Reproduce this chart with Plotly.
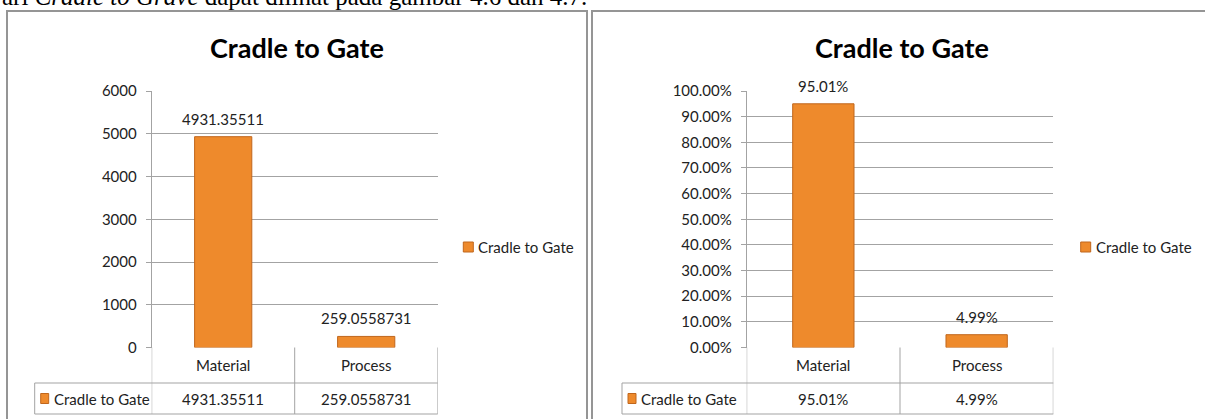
import plotly.graph_objects as go

# ---- data -------------------------------------------------------------
categories = ["Material", "Process"]
series_name = "Cradle to Gate"
values = [4931.35511, 259.0558731]          # absolute contribution
value_labels = ["4931.35511", "259.0558731"]
shares = [0.9501, 0.0499]                   # share of total
share_labels = ["95.01%", "4.99%"]
abs_ticks = [0, 1000, 2000, 3000, 4000, 5000, 6000]
pct_ticks = [0.0, 0.1, 0.2, 0.3, 0.4, 0.5, 0.6, 0.7, 0.8, 0.9, 1.0]
caption = "ari <i>Cradle to Grave</i> dapat dilihat pada gambar 4.6 dan 4.7."

# ---- page geometry (pixels) -------------------------------------------
W, H = 1205, 419
FONT = "Lato, 'Open Sans', sans-serif"
ORANGE = "#EE8A2C"
EDGE = "#C0661C"
GRID = "#A3A3A3"
FRAME = "#959595"


def px(x):
    return x / W


def py(y):
    return 1 - y / H


PLOT_TOP, PLOT_BOTTOM = 91, 347.5
ROW1_BOTTOM, ROW2_BOTTOM = 383, 414

panels = [
    dict(ax="", frame=(7, 587), plot=(151.7, 437.7), table_left=34.7,
         legend_x=463.3, title_x=297, y=values, labels=value_labels,
         ticks=abs_ticks, fmt="d", rng=[0, 6000]),
    dict(ax="2", frame=(592, 1225), plot=(746.7, 1053.3), table_left=622,
         legend_x=1080.7, title_x=902, y=shares, labels=share_labels,
         ticks=pct_ticks, fmt=".2%", rng=[0, 1]),
]

fig = go.Figure()
shapes, annotations = [], []
layout_axes = {}

for p in panels:
    xa, ya = "x" + p["ax"], "y" + p["ax"]
    fig.add_trace(go.Bar(
        x=categories, y=p["y"], name=series_name,
        xaxis=xa, yaxis=ya, showlegend=False, hoverinfo="skip",
        marker=dict(color=ORANGE, line=dict(color=EDGE, width=1)),
    ))

    layout_axes["xaxis" + p["ax"]] = dict(
        domain=[px(p["plot"][0]), px(p["plot"][1])], anchor=ya,
        range=[-0.5, 1.5], showticklabels=False, showgrid=False,
        zeroline=False, showline=False, ticks="", fixedrange=True,
        automargin=False,
    )
    layout_axes["yaxis" + p["ax"]] = dict(
        domain=[py(PLOT_BOTTOM), py(PLOT_TOP)], anchor=xa,
        range=p["rng"], tickvals=p["ticks"], tickformat=p["fmt"],
        showgrid=True, gridcolor=GRID, gridwidth=1, zeroline=False,
        showline=True, linecolor=GRID, linewidth=1,
        ticks="outside", ticklen=5, tickcolor=GRID,
        ticklabelstandoff=6, automargin=False,
        tickfont=dict(family=FONT, size=15, color="#222"),
        fixedrange=True,
    )

    # chart frame
    shapes.append(dict(type="rect", xref="paper", yref="paper",
                       x0=px(p["frame"][0]), x1=px(p["frame"][1]),
                       y0=py(11), y1=py(H + 40),
                       line=dict(color=FRAME, width=2)))

    # title
    annotations.append(dict(text="<b>Cradle to Gate</b>", xref="paper", yref="paper",
                            x=px(p["title_x"]), y=py(47.5), xanchor="center",
                            yanchor="middle", showarrow=False,
                            font=dict(family=FONT, size=27, color="#000")))

    # value labels above the bars
    for cat, v, lab in zip(categories, p["y"], p["labels"]):
        annotations.append(dict(text=lab, xref=xa, yref=ya, x=cat, y=v,
                                yshift=18, xanchor="center", yanchor="middle",
                                showarrow=False,
                                font=dict(family=FONT, size=15, color="#222")))

    # data table beneath the plot
    tl = px(p["table_left"])
    right = px(p["plot"][1])
    for xb in (-0.5, 0.5, 1.5):
        shapes.append(dict(type="line", xref=xa, yref="paper", x0=xb, x1=xb,
                           y0=py(PLOT_BOTTOM), y1=py(ROW2_BOTTOM),
                           line=dict(color=GRID, width=1)))
    for yb in (ROW1_BOTTOM, ROW2_BOTTOM):
        shapes.append(dict(type="line", xref="paper", yref="paper", x0=tl, x1=right,
                           y0=py(yb), y1=py(yb), line=dict(color=GRID, width=1)))
    shapes.append(dict(type="line", xref="paper", yref="paper", x0=tl, x1=tl,
                       y0=py(ROW1_BOTTOM), y1=py(ROW2_BOTTOM),
                       line=dict(color=GRID, width=1)))

    for cat, lab in zip(categories, p["labels"]):
        annotations.append(dict(text=cat, xref=xa, yref="paper", x=cat,
                                y=py((PLOT_BOTTOM + ROW1_BOTTOM) / 2),
                                xanchor="center", yanchor="middle", showarrow=False,
                                font=dict(family=FONT, size=15, color="#222")))
        annotations.append(dict(text=lab, xref=xa, yref="paper", x=cat,
                                y=py((ROW1_BOTTOM + ROW2_BOTTOM) / 2),
                                xanchor="center", yanchor="middle", showarrow=False,
                                font=dict(family=FONT, size=15, color="#222")))

    # series key in the table row
    kx = p["table_left"] + 6
    ky = (ROW1_BOTTOM + ROW2_BOTTOM) / 2
    shapes.append(dict(type="rect", xref="paper", yref="paper",
                       x0=px(kx), x1=px(kx + 8), y0=py(ky + 5), y1=py(ky - 5),
                       fillcolor=ORANGE, line=dict(color=EDGE, width=1)))
    annotations.append(dict(text=series_name, xref="paper", yref="paper",
                            x=px(kx + 11), y=py(ky), xanchor="left", yanchor="middle",
                            showarrow=False,
                            font=dict(family=FONT, size=15, color="#222")))

    # legend
    lx, ly = p["legend_x"], 247
    shapes.append(dict(type="rect", xref="paper", yref="paper",
                       x0=px(lx), x1=px(lx + 10), y0=py(ly + 5), y1=py(ly - 5),
                       fillcolor=ORANGE, line=dict(color=EDGE, width=1)))
    annotations.append(dict(text=series_name, xref="paper", yref="paper",
                            x=px(lx + 13), y=py(ly), xanchor="left", yanchor="middle",
                            showarrow=False,
                            font=dict(family=FONT, size=15, color="#222")))

# running text above the charts (cut by the page top)
annotations.append(dict(text=caption, xref="paper", yref="paper", x=0, y=py(12),
                        xanchor="left", yanchor="bottom", showarrow=False,
                        font=dict(family="Liberation Serif, serif", size=25, color="#000")))

fig.update_layout(
    width=W, height=H, margin=dict(l=0, r=0, t=0, b=0, autoexpand=False),
    paper_bgcolor="white", plot_bgcolor="white",
    bargap=0.6, showlegend=False,
    shapes=shapes, annotations=annotations,
    **layout_axes,
)

fig.write_html("out.html", config={"displayModeBar": False})
